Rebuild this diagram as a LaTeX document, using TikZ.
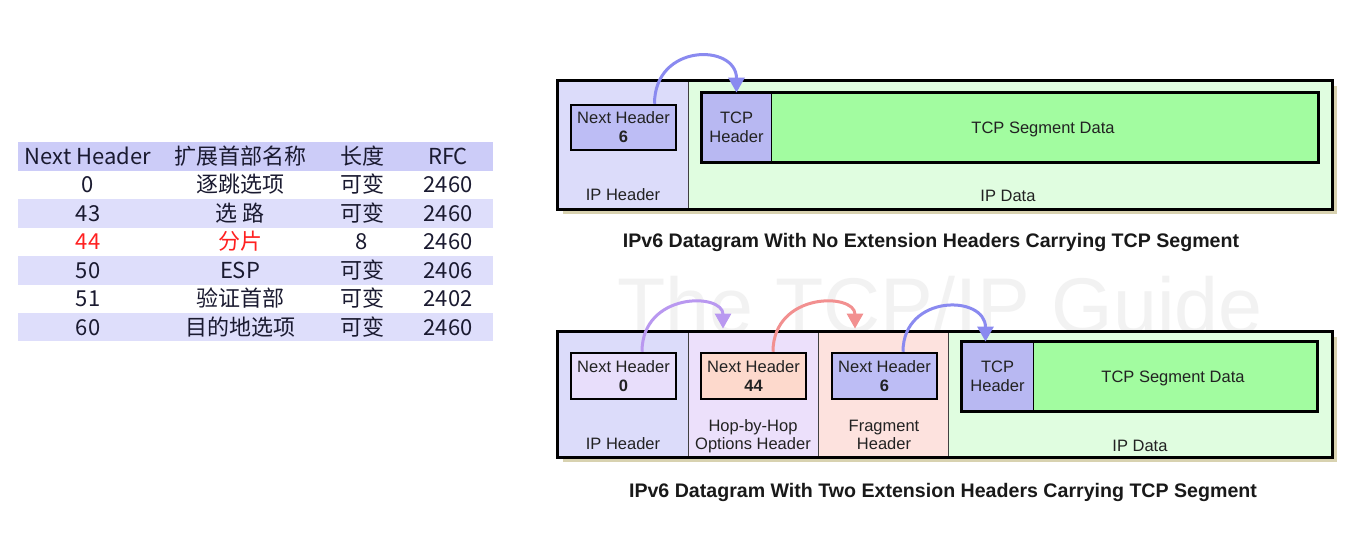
\documentclass[tikz,border=0pt]{standalone}
\usepackage{fontspec}
\setmainfont{Liberation Sans}
\newfontfamily\cjk{Noto Sans CJK SC}
\usetikzlibrary{arrows.meta}
\definecolor{thead}{HTML}{CCCCF8}
\definecolor{tband}{HTML}{DEDEFB}
\definecolor{ttxt}{HTML}{1A1A30}
\definecolor{tred}{HTML}{FF2020}
\definecolor{iphdr}{HTML}{DCDCFA}
\definecolor{hopc}{HTML}{ECE0FB}
\definecolor{fragc}{HTML}{FDE2DE}
\definecolor{datac}{HTML}{E0FDE0}
\definecolor{nhblue}{HTML}{BDBDF5}
\definecolor{nhviolet}{HTML}{E8DEFB}
\definecolor{nhsalmon}{HTML}{FDD9CC}
\definecolor{tcph}{HTML}{B8B8F2}
\definecolor{segc}{HTML}{A2FCA0}
\definecolor{shadowc}{HTML}{D8D2B0}
\definecolor{dtxt}{HTML}{222222}
\definecolor{arblue}{HTML}{8A8AF0}
\definecolor{arviolet}{HTML}{B998F0}
\definecolor{arsalmon}{HTML}{F29090}
\begin{document}
\begin{tikzpicture}[x=1pt,y=-1pt,
  tcell/.style={anchor=base, inner sep=0pt, font=\cjk\fontsize{22}{24}\selectfont, text=ttxt},
  lbl/.style={anchor=base, inner sep=0pt, font=\fontsize{16.5}{19}\selectfont, text=dtxt},
  sect/.style={draw=black!75, line width=0.8pt, inner sep=0pt},
  nhbox/.style={draw=black, line width=2.5pt, minimum width=105pt, minimum height=45pt, inner sep=0pt, align=center, font=\fontsize{16.5}{19}\selectfont, text=dtxt},
  tcpbox/.style={draw=black, line width=0.8pt, inner sep=0pt, align=center, font=\fontsize{16.5}{19}\selectfont, text=dtxt},
  outer/.style={draw=black, line width=3pt},
  arr/.style={line width=3pt, -{Triangle[length=15pt,width=16pt]}},
  captxt/.style={anchor=base, inner sep=0pt, font=\bfseries\fontsize{19.6}{22}\selectfont, text=black!90}
]
\useasboundingbox (0,0) rectangle (1371,533);
\fill[white] (0,0) rectangle (1371,533);

% ---------------- table ----------------
\fill[thead] (18,142) rectangle (493,170.5);
\fill[tband] (18,199) rectangle (493,227.5);
\fill[tband] (18,256) rectangle (493,284.5);
\fill[tband] (18,312.5) rectangle (493,341);

\node[tcell] (h1) at (88,164) {Next Header};
\node[tcell] (h2) at (240,164) {扩展首部名称};
\node[tcell] (h3) at (362,164) {长度};
\node[tcell] (h4) at (448,164) {RFC};

\node[tcell] (r1a) at (88,192.5) {0};
\node[tcell] (r1b) at (240,192.5) {逐跳选项};
\node[tcell] (r1c) at (362,192.5) {可变};
\node[tcell] (r1d) at (448,192.5) {2460};

\node[tcell] (r2a) at (88,221) {43};
\node[tcell] (r2b) at (240,221) {选 路};
\node[tcell] (r2c) at (362,221) {可变};
\node[tcell] (r2d) at (448,221) {2460};

\node[tcell,text=tred] (r3a) at (88,249.5) {44};
\node[tcell,text=tred] (r3b) at (240,249.5) {分片};
\node[tcell] (r3c) at (362,249.5) {8};
\node[tcell] (r3d) at (448,249.5) {2460};

\node[tcell] (r4a) at (88,278) {50};
\node[tcell] (r4b) at (240,278) {ESP};
\node[tcell] (r4c) at (362,278) {可变};
\node[tcell] (r4d) at (448,278) {2406};

\node[tcell] (r5a) at (88,306.5) {51};
\node[tcell] (r5b) at (240,306.5) {验证首部};
\node[tcell] (r5c) at (362,306.5) {可变};
\node[tcell] (r5d) at (448,306.5) {2402};

\node[tcell] (r6a) at (88,335) {60};
\node[tcell] (r6b) at (240,335) {目的地选项};
\node[tcell] (r6c) at (362,335) {可变};
\node[tcell] (r6d) at (448,335) {2460};

% ---------------- watermark ----------------
\node[anchor=base, inner sep=0pt, font=\fontsize{79}{80}\selectfont, text=black!5] (wm) at (940,333) {The TCP/IP Guide};

% ---------------- top diagram ----------------
\fill[shadowc] (563,86) rectangle (1337,214);
\node[sect, fill=iphdr, minimum width=130pt, minimum height=128pt] (ipA) at (623,145) {};
\node[sect, fill=datac, minimum width=644pt, minimum height=128pt] (dataA) at (1010,145) {};
\draw[outer] (ipA.north west) rectangle (dataA.south east);

\node[nhbox, fill=nhblue] (nhA) at (623.5,127.5) {Next Header\\\textbf{6}};
\node[tcpbox, fill=tcph, minimum width=69pt, minimum height=69pt] (tcphA) at (736.5,127.5) {TCP\\Header};
\node[tcpbox, fill=segc, minimum width=547pt, minimum height=69pt] (segA) at (1044.5,127.5) {};
\draw[line width=3pt] (tcphA.north west) rectangle (segA.south east);
\node[lbl] (segAl) at (1043,133) {TCP Segment Data};
\node[lbl] (ipAl) at (623,200.5) {IP Header};
\node[lbl] (dataAl) at (1008,201) {IP Data};

\draw[arr, arblue] ([xshift=31pt]nhA.north) .. controls +(0,-61) and +(0,-49) .. (tcphA.north);

\node[captxt] (capA) at (931,247) {IPv6 Datagram With No Extension Headers Carrying TCP Segment};

% ---------------- bottom diagram ----------------
\fill[shadowc] (563,337) rectangle (1337,462);
\node[sect, fill=iphdr, minimum width=130pt, minimum height=125pt] (ipB) at (623,394.5) {};
\node[sect, fill=hopc, minimum width=130pt, minimum height=125pt] (hopB) at (753,394.5) {};
\node[sect, fill=fragc, minimum width=130pt, minimum height=125pt] (fragB) at (883,394.5) {};
\node[sect, fill=datac, minimum width=384pt, minimum height=125pt] (dataB) at (1140,394.5) {};
\draw[outer] (ipB.north west) rectangle (dataB.south east);

\node[nhbox, fill=nhviolet, minimum height=46pt] (nhB0) at (623.5,376) {Next Header\\\textbf{0}};
\node[nhbox, fill=nhsalmon, minimum height=46pt] (nhB1) at (753.5,376) {Next Header\\\textbf{44}};
\node[nhbox, fill=nhblue, minimum height=46pt] (nhB2) at (884.5,376) {Next Header\\\textbf{6}};

\node[tcpbox, fill=tcph, minimum width=71pt, minimum height=69pt] (tcphB) at (997.5,376.5) {TCP\\Header};
\node[tcpbox, fill=segc, minimum width=284pt, minimum height=69pt] (segB) at (1175,376.5) {};
\draw[line width=3pt] (tcphB.north west) rectangle (segB.south east);
\node[lbl] (segBl) at (1173,382) {TCP Segment Data};

\node[lbl] (ipBl) at (623,449.5) {IP Header};
\node[lbl] (hopBl1) at (753,431.5) {Hop-by-Hop};
\node[lbl] (hopBl2) at (753,449.5) {Options Header};
\node[lbl] (fragBl1) at (884,431.5) {Fragment};
\node[lbl] (fragBl2) at (884,449.5) {Header};
\node[lbl] (dataBl) at (1140,451) {IP Data};

\draw[arr, arviolet] ([xshift=18.5pt]nhB0.north) .. controls +(0,-60) and +(0,-36) .. ([xshift=-30pt,yshift=3pt]hopB.north);
\draw[arr, arsalmon] ([xshift=19.5pt]nhB1.north) .. controls +(0,-60) and +(0,-36) .. ([xshift=-28pt,yshift=3pt]fragB.north);
\draw[arr, arblue] ([xshift=18.5pt]nhB2.north) .. controls +(0,-58) and +(0,-47) .. ([xshift=-12pt]tcphB.north);

\node[captxt] (capB) at (943,497) {IPv6 Datagram With Two Extension Headers Carrying TCP Segment};
\end{tikzpicture}
\end{document}
